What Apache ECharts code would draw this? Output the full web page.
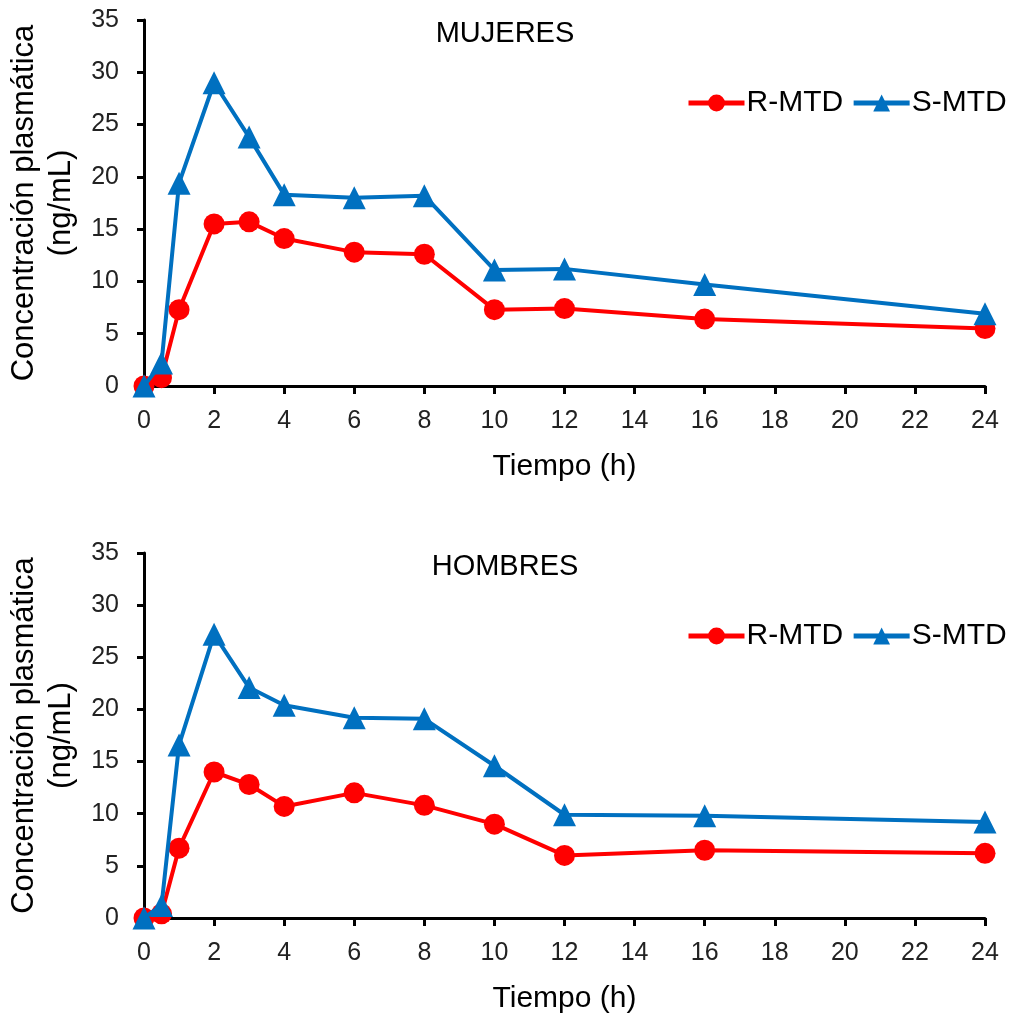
<!DOCTYPE html>
<html><head><meta charset="utf-8">
<script src="https://cdn.jsdelivr.net/npm/echarts@6/dist/echarts.min.js"></script>
<style>html,body{margin:0;padding:0;background:#fff}#c{width:1014px;height:1021px}</style>
</head><body><div id="c"></div>
<script>
const times = [0, 0.5, 1, 2, 3, 4, 6, 8, 10, 12, 16, 24];
const mujeresR = [0, 0.8, 7.3, 15.5, 15.7, 14.1, 12.8, 12.6, 7.3, 7.4, 6.4, 5.5];
const mujeresS = [0, 2.2, 19.4, 29.0, 23.8, 18.3, 18.0, 18.2, 11.1, 11.2, 9.7, 6.9];
const hombresR = [0, 0.4, 6.7, 14.0, 12.8, 10.7, 12.0, 10.8, 9.0, 6.0, 6.5, 6.2];
const hombresS = [0, 1.2, 16.6, 27.2, 22.1, 20.4, 19.2, 19.1, 14.6, 9.9, 9.8, 9.2];
const seriesNames = ['R-MTD', 'S-MTD'];
const panelTitles = ['MUJERES', 'HOMBRES'];
const xLabel = 'Tiempo (h)';
const yLabel = 'Concentración plasmática\n(ng/mL)';

const FONT = 'Liberation Sans, Arial, sans-serif';
const pair = (xs, ys) => xs.map((x, i) => [x, ys[i]]);
const chart = echarts.init(document.getElementById('c'));

function xAx(gi) {
  return {
    type: 'value', gridIndex: gi, min: 0, max: 24, interval: 2,
    name: xLabel, nameLocation: 'middle', nameGap: 66,
    nameTextStyle: {fontSize: 30, color: '#000', fontFamily: FONT},
    axisLine: {lineStyle: {color: '#000', width: 3}},
    axisTick: {inside: false, length: 8, lineStyle: {color: '#000', width: 3}},
    axisLabel: {fontSize: 25, color: '#222', fontFamily: FONT, margin: 23},
    splitLine: {show: false}
  };
}
function yAx(gi) {
  return {
    type: 'value', gridIndex: gi, min: 0, max: 35, interval: 5,
    name: yLabel, nameLocation: 'middle', nameGap: 52, nameRotate: 90,
    nameTextStyle: {fontSize: 31, color: '#000', fontFamily: FONT, lineHeight: 37},
    axisLine: {show: true, lineStyle: {color: '#000', width: 3}},
    axisTick: {show: true, inside: false, length: 7, lineStyle: {color: '#000', width: 3}},
    axisLabel: {fontSize: 25, color: '#222', fontFamily: FONT, margin: 25},
    splitLine: {show: false}
  };
}
function ser(name, data, gi) {
  const isR = name === 'R-MTD';
  const col = isR ? '#FF0000' : '#0070C0';
  return {
    name, type: 'line', xAxisIndex: gi, yAxisIndex: gi, data,
    symbol: isR ? 'circle' : 'triangle', symbolSize: isR ? 21 : 23,
    clip: false, z: isR ? 2 : 3,
    lineStyle: {color: col, width: 4},
    itemStyle: {color: col}
  };
}
const legendBase = {
  data: seriesNames, left: 686, width: 330, padding: 0, orient: 'horizontal',
  itemWidth: 56, itemHeight: 21, itemGap: 8,
  lineStyle: {width: 5},
  textStyle: {fontSize: 30, color: '#000', fontFamily: FONT, padding: [0, 0, 0, -3]}
};
chart.setOption({
  animation: false,
  textStyle: {fontFamily: FONT},
  title: [
    {text: panelTitles[0], left: 500, top: 14, textAlign: 'center', textStyle: {fontSize: 29, fontWeight: 'normal', color: '#000', fontFamily: FONT}},
    {text: panelTitles[1], left: 500, top: 547, textAlign: 'center', textStyle: {fontSize: 29, fontWeight: 'normal', color: '#000', fontFamily: FONT}}
  ],
  legend: [
    Object.assign({}, legendBase, {top: 88}),
    Object.assign({}, legendBase, {top: 621})
  ],
  grid: [
    {left: 144, right: 29, top: 20, height: 366, containLabel: false, outerBoundsMode: 'none'},
    {left: 144, right: 29, top: 553, height: 365, containLabel: false, outerBoundsMode: 'none'}
  ],
  xAxis: [xAx(0), xAx(1)],
  yAxis: [yAx(0), yAx(1)],
  series: [
    ser(seriesNames[0], pair(times, mujeresR), 0),
    ser(seriesNames[1], pair(times, mujeresS), 0),
    ser(seriesNames[0], pair(times, hombresR), 1),
    ser(seriesNames[1], pair(times, hombresS), 1)
  ]
});
</script></body></html>
